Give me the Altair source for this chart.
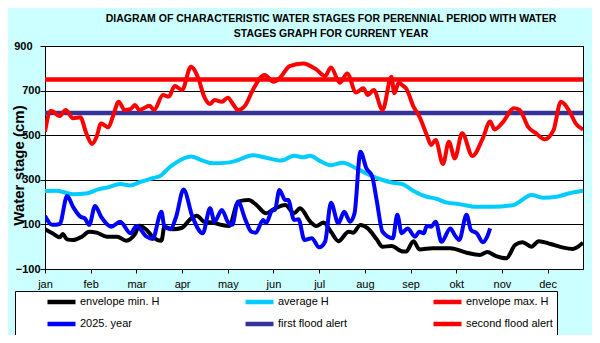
import altair as alt
import pandas as pd

FONT = "Liberation Sans"

months = ["jan", "feb", "mar", "apr", "may", "jun", "jul", "aug", "sep", "okt", "nov", "dec"]
month_start_days = [0, 31, 62, 93, 124, 155, 186, 217, 248, 279, 310, 341]
y_ticks = [-100, 100, 300, 500, 700, 900]

title_lines = [
    "DIAGRAM OF CHARACTERISTIC WATER  STAGES FOR PERENNIAL  PERIOD  WITH WATER",
    "STAGES GRAPH FOR CURRENT  YEAR",
]

series_names = ["envelope min. H", "average H", "envelope max. H",
                "2025. year", "first flood alert", "second flood alert"]
series_colors = ["#000000", "#00ccff", "#ff0000", "#0000ff", "#333399", "#ff0000"]

min_days = [0, 5, 10, 12, 15, 19, 25, 30, 35, 42, 49, 55, 61, 64, 69, 73, 79, 81, 87, 93,
            98, 103, 108, 114, 120, 125, 131, 138, 143, 150, 155, 163, 169, 173, 180, 184, 189, 194, 199, 206,
            209, 214, 219, 225, 229, 235, 243, 245, 250, 254, 263, 275, 286, 295, 300, 306, 313, 319, 324, 330,
            335, 343, 351, 358, 365]
min_vals = [78, 60, 42, 57, 33, 30, 45, 67, 63, 45, 45, 27, 56, 94, 75, 45, 27, 90, 78, 85,
            120, 139, 112, 108, 97, 93, 202, 209, 190, 150, 168, 187, 150, 172, 112, 93, 108, 67, 25, 67,
            63, 97, 82, 33, 0, 3, -22, -22, 25, -12, -7, -7, -27, -37, -24, -42, -52, 8, 20, 0,
            25, 12, -3, -10, 18]

avg_days = [0, 8, 19, 29, 36, 42, 51, 58, 64, 73, 78, 85, 92, 99, 107, 114, 124, 130, 141, 150,
            160, 169, 175, 180, 186, 194, 202, 211, 220, 229, 236, 243, 250, 259, 266, 272, 281, 293, 304, 318,
            322, 330, 338, 347, 356, 365]
avg_vals = [250, 251, 235, 240, 257, 265, 281, 275, 289, 307, 317, 359, 389, 404, 386, 374, 377, 386, 410, 399,
            386, 408, 401, 408, 386, 365, 377, 352, 322, 299, 287, 279, 250, 224, 214, 199, 191, 179, 179, 187,
            202, 232, 220, 224, 240, 251]

max_days = [0, 4, 10, 14, 19, 24, 28, 32, 35, 38, 43, 46, 50, 54, 58, 61, 64, 71, 74, 80,
            84, 88, 93, 99, 104, 108, 112, 115, 120, 124, 128, 131, 136, 141, 149, 155, 159, 166, 175, 184,
            190, 194, 200, 205, 211, 216, 219, 223, 229, 235, 237, 240, 243, 245, 250, 254, 259, 262, 265, 270,
            274, 278, 283, 290, 297, 302, 305, 311, 318, 322, 328, 333, 339, 345, 350, 356, 360, 365]
max_vals = [516, 610, 586, 613, 576, 580, 509, 461, 493, 553, 535, 583, 650, 613, 617, 635, 613, 632, 613, 680,
            673, 721, 703, 807, 755, 673, 640, 658, 650, 668, 635, 613, 635, 703, 770, 740, 755, 810, 822, 795,
            765, 804, 735, 777, 692, 710, 680, 703, 613, 762, 688, 735, 721, 710, 628, 583, 501, 456, 478, 371,
            471, 396, 509, 407, 486, 561, 526, 561, 621, 613, 535, 509, 482, 523, 650, 605, 553, 526]

cur_days = [0, 5, 10, 15, 19, 24, 27, 30, 34, 38, 45, 51, 58, 62, 69, 73, 79, 81, 85, 89,
            94, 100, 107, 112, 115, 120, 124, 127, 131, 136, 140, 143, 148, 150, 154, 156, 159, 163, 165, 169,
            172, 176, 181, 186, 190, 194, 199, 203, 207, 210, 214, 218, 222, 225, 229, 236, 239, 242, 246, 251,
            254, 257, 259, 262, 265, 269, 275, 278, 281, 286, 289, 293, 297, 300, 302]
cur_vals = [138, 98, 102, 227, 179, 135, 127, 98, 183, 135, 90, 112, 60, 93, 45, 35, 157, 90, 78, 135,
            257, 135, 60, 172, 112, 165, 112, 98, 202, 120, 67, 63, 120, 105, 161, 165, 254, 209, 209, 120,
            123, 30, 38, -3, 22, 197, 105, 157, 112, 150, 426, 352, 314, 209, 67, 38, 143, 60, 82, 45,
            67, 60, 93, 90, 112, 22, 82, 52, 30, 143, 75, 60, 20, 45, 82]

alert_days = [0, 365]
first_alert_vals = [600, 600]
second_alert_vals = [750, 750]

parts = [
    ("first flood alert", alert_days, first_alert_vals),
    ("second flood alert", alert_days, second_alert_vals),
    ("envelope min. H", min_days, min_vals),
    ("average H", avg_days, avg_vals),
    ("envelope max. H", max_days, max_vals),
    ("2025. year", cur_days, cur_vals),
]
rows = []
for name, days, vals in parts:
    for d, v in zip(days, vals):
        rows.append({"day": d, "stage": v, "series": name})
df = pd.DataFrame(rows)

month_js = "[" + ",".join("'%s'" % m for m in months) + "]"

x_enc = alt.X(
    "day:Q",
    scale=alt.Scale(domain=[0, 365], nice=False, zero=False),
    axis=alt.Axis(values=month_start_days, labelExpr=month_js + "[round(datum.value/31)]",
                  grid=False, title=None, tickSize=4, tickColor="black", domainColor="black",
                  labelFont=FONT, labelFontSize=11, labelColor="black", labelPadding=5,
                  labelAngle=0, labelAlign="center", labelFlush=False, labelOverlap=False),
)
y_enc = alt.Y(
    "stage:Q",
    scale=alt.Scale(domain=[-100, 900], nice=False, zero=False),
    axis=alt.Axis(values=y_ticks, grid=True, gridColor="black", gridWidth=1, gridOpacity=1,
                  tickSize=5, tickColor="black", domainColor="black",
                  labelFont=FONT, labelFontSize=11, labelFontWeight="bold", labelColor="black",
                  labelPadding={"condition": {"test": "datum.value == 900", "value": 8}, "value": 0},
                  labelFlush=False, labelOverlap=False,
                  title="Water stage (cm)", titleFont=FONT, titleFontSize=15, titleFontWeight="bold",
                  titleColor="black", titleX=-27, titleY=119, titleAngle=270,
                  titleAlign="center", titleBaseline="middle"),
)

pad = "\u00a0" * 6
legend = alt.Legend(
    title="\u00a0", titleOrient="left", titlePadding=26, titleFontSize=11,
    orient="none", legendX=-30, legendY=245, direction="horizontal", columns=3,
    columnPadding=83, rowPadding=8, clipHeight=14,
    symbolType="stroke", symbolStrokeWidth=4.5, symbolSize=784,
    labelFont=FONT, labelFontSize=11, labelColor="black", labelOffset=2,
    labelExpr="(datum.label == 'envelope max. H' || datum.label == 'second flood alert') ? datum.label + '"
              + pad + "' : datum.label",
    labelLimit=300, padding=4, strokeColor="black", fillColor="white",
)
color_enc = alt.Color("series:N",
                      scale=alt.Scale(domain=series_names, range=series_colors),
                      legend=legend)

base = alt.Chart(df).encode(x=x_enc, y=y_enc, color=color_enc)

layers = []
for name in ["first flood alert", "second flood alert"]:
    layers.append(base.transform_filter(alt.datum.series == name)
                  .mark_line(strokeWidth=4.5, clip=True))
for name in ["envelope min. H", "average H", "envelope max. H", "2025. year"]:
    layers.append(base.transform_filter(alt.datum.series == name)
                  .mark_line(strokeWidth=4, interpolate="monotone", strokeJoin="round", clip=True))

chart = alt.layer(*layers).properties(
    width=538, height=223,
    autosize=alt.AutoSizeParams(type="none"),
    padding={"left": 37, "top": 38, "right": 9, "bottom": 66},
    background="#ccffff",
    title=alt.TitleParams(text=title_lines, font=FONT, fontSize=10.5, fontWeight="bold",
                          color="black", anchor="middle", dx=17, offset=1, lineHeight=14.5),
).configure_view(stroke="black", strokeWidth=1, fill="white")

chart.save("out.html", embed_options={"renderer": "svg", "actions": False})
